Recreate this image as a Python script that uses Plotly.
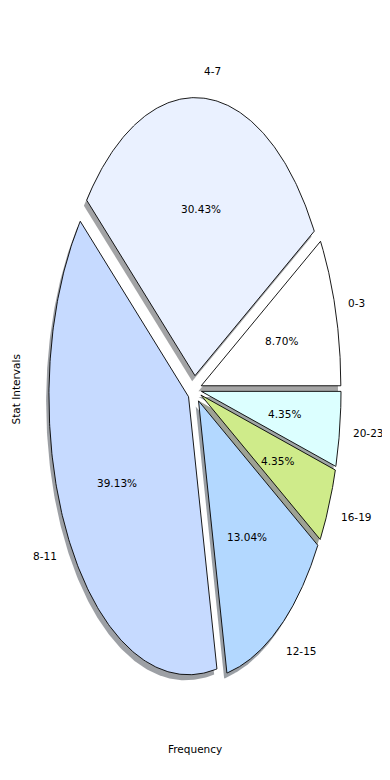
import numpy as np
import plotly.graph_objects as go

labels = ["0-3", "4-7", "8-11", "12-15", "16-19", "20-23"]
frequency = [2, 7, 9, 3, 1, 1]
colors = ["#ffffff", "#eaf1ff", "#c6daff", "#b3d8ff", "#cfeb8a", "#dcffff"]
explode = [0.05, 0.05, 0.05, 0.05, 0.05, 0.05]

FONT = "DejaVu Sans"
FS = 10.5

total = sum(frequency)
fracs = [f / total for f in frequency]

fig = go.Figure()

def shade(hexcol):
    h = hexcol.lstrip("#")
    r, g, b = (int(h[i:i + 2], 16) for i in (0, 2, 4))
    return f"rgba({int(0.3*r)},{int(0.3*g)},{int(0.3*b)},0.5)"

wedges = []
start = 0.0
for lab, fr, col, ex in zip(labels, fracs, colors, explode):
    t1 = start
    t2 = start + fr * 360.0
    tm = np.deg2rad((t1 + t2) / 2)
    cx, cy = ex * np.cos(tm), ex * np.sin(tm)
    th = np.deg2rad(np.linspace(t1, t2, 200))
    xs = np.concatenate([[cx], cx + np.cos(th), [cx]])
    ys = np.concatenate([[cy], cy + np.sin(th), [cy]])
    wedges.append((lab, fr, col, xs, ys, cx, cy, tm))
    start = t2

# shadows first (below all wedges)
for lab, fr, col, xs, ys, cx, cy, tm in wedges:
    fig.add_trace(go.Scatter(x=xs - 0.02, y=ys - 0.02, mode="lines", fill="toself",
                             fillcolor=shade(col), line=dict(width=0),
                             hoverinfo="skip", showlegend=False))

for lab, fr, col, xs, ys, cx, cy, tm in wedges:
    fig.add_trace(go.Scatter(x=xs, y=ys, mode="lines", fill="toself",
                             fillcolor=col, line=dict(color="black", width=0.9),
                             hoverinfo="skip", showlegend=False))
    # label at 1.1 radius
    lx = cx + 1.1 * np.cos(tm)
    ly = cy + 1.1 * np.sin(tm)
    right = lx > 0
    fig.add_annotation(x=lx, y=ly, text=lab, showarrow=False,
                       xanchor="left" if right else "right", yanchor="middle",
                       xshift=-3 if right else 2,
                       font=dict(family=FONT, size=FS, color="black"))
    px = cx + 0.6 * np.cos(tm)
    py = cy + 0.6 * np.sin(tm)
    fig.add_annotation(x=px, y=py, text=f"{fr*100:.2f}%", showarrow=False,
                       xanchor="center", yanchor="middle",
                       font=dict(family=FONT, size=FS, color="black"))

fig.add_annotation(xref="paper", yref="paper", x=0, y=0.5, xshift=-5,
                   text="Stat Intervals", textangle=-90, showarrow=False,
                   xanchor="center", yanchor="middle",
                   font=dict(family=FONT, size=FS, color="black"))
fig.add_annotation(xref="paper", yref="paper", x=0.5, y=0, yshift=-12,
                   text="Frequency", showarrow=False,
                   xanchor="center", yanchor="middle",
                   font=dict(family=FONT, size=FS, color="black"))

fig.update_xaxes(range=[-1.25, 1.25], visible=False, fixedrange=True)
fig.update_yaxes(range=[-1.25, 1.25], visible=False, fixedrange=True)
fig.update_layout(width=390, height=780, margin=dict(l=12, r=29, t=34, b=51),
                  plot_bgcolor="white", paper_bgcolor="white", showlegend=False)

fig.write_html("out.html")
